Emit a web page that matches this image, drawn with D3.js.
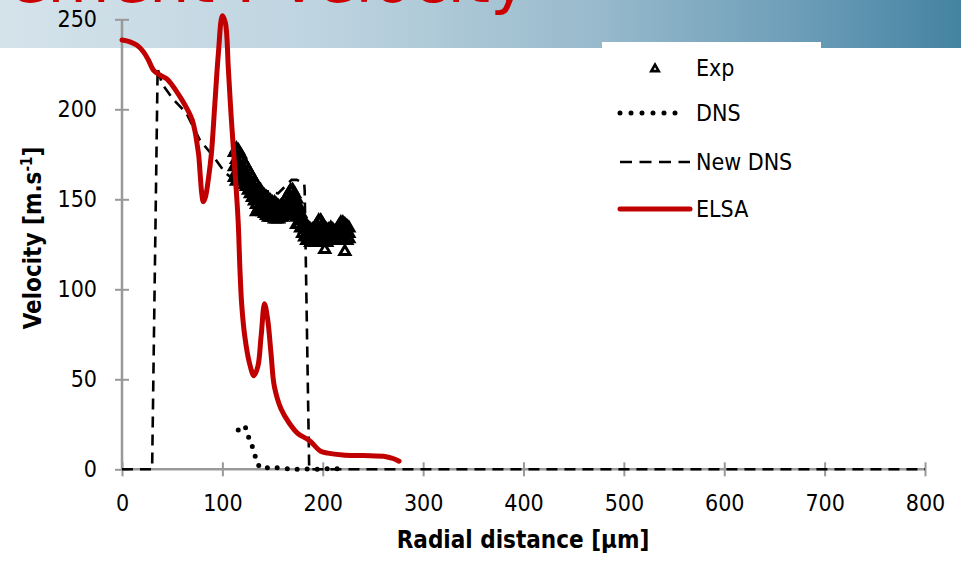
<!DOCTYPE html>
<html><head><meta charset="utf-8">
<script src="https://cdn.jsdelivr.net/npm/d3@7/dist/d3.min.js"></script>
<style>
body{margin:0;background:#fff;}
svg{display:block;}
text{font-family:"DejaVu Sans Condensed","Liberation Sans Narrow","DejaVu Sans",sans-serif;font-stretch:condensed;}
</style></head><body>
<svg id="c" width="961" height="562"></svg>
<script>
// ---------- data ----------
const xTicks = [0,100,200,300,400,500,600,700,800];
const yTicks = [0,50,100,150,200,250];
const seriesNames = ["Exp","DNS","New DNS","ELSA"];
const titleText = "Measurement : Velocity";
const xTitle = "Radial distance [μm]";

const elsa = [[0,238.5],[8,237.5],[14.6,235.7],[21.3,232],[26.3,227.4],[31.3,221.8],[37.8,219],[44.5,217],
 [49.5,213.8],[59.4,205.5],[66,199],[70,194],[73,187],[75,180],[76.5,174],[78,163],[79.5,153],[81,148.7],
 [83,151],[86,161],[89,175],[92.5,203],[96,231],[100,252],[103,248],[106,222],[109,194],[112.5,166],
 [115.7,138],[117.5,111],[119.2,92],[122.3,74],[127,59],[131.4,52],[135.3,57],[138.6,74],[142,92],
 [145.2,83],[148.5,64],[151.8,46],[158.5,33.5],[166.7,25.6],[175,20],[186.6,16],[198,10],[205,9],
 [220,8],[240,7.6],[263,7],[270,6],[276,4.5]];

const dns = [[115.8,21.8],[121.7,24.2],[125,19.4],[128.3,14.8],[131.6,9.8],[134,4.8],[138.9,0.5],
 [147.6,1.1],[155.8,0.8],[168,0.2],[177,0],[188,0.3],[199,0],[209,0.5],[219,0]];

const newDns = [[0,0],[30,0],[35.5,222.5],[40,214],[51,205.5],[64,198],[77.5,183],[90.7,174],[102.5,165],
 [117.3,158],[134,155.3],[147,154.2],[155.5,153.3],[164,158],[169,160.8],[174,160.8],[181.5,158.9],
 [182,155],[186.5,0],[800,0]];

const expX = [112,114,116,118,120,122,124,126,128,130,132,134,136,138,140,142,144,146,148,150,152,154,156,158,
 160,162,164,166,168,170,172,174,176,178,180,182,184,186,188,190,192,194,196,198,200,202,204,206,208,210,
 212,214,216,218,220,222,224,226];
const expV = [[176,168,162],[178,172,165,160],[177,170,163],[175,168,161],[172,166,160],[170,164,158],
 [168,162,157],[166,160,155],[164,158,153],[162,156,151],[160,154,149],[158,152,147,143],[156,150,145],
 [155,149,144],[153,148,143],[152,147,142],[151,146,141],[150,145,140],[149,144,140],[148,143,140],
 [148,143,139],[147,142,139],[146,142,139],[146,142,140],[147,143,140],[149,144,141],[151,146,142],
 [153,148,143],[155,150,145],[155,151,146],[153,148,143],[150,145,140,136],[146,141,136],[142,138,134],
 [139,135,131],[137,133,129],[135,131,127],[134,130,127],[133,129,126],[133,129,126],[134,130,127],
 [136,131,128],[138,133,129],[138,133,129],[136,131,127],[134,130,126,122],[133,129,126],[133,130,127],
 [134,130,127],[133,130,127],[132,129,127],[133,130,127],[135,131,128],[137,133,129],[137,133,129],
 [136,132,128,121],[135,131,127],[134,131,128]];

// ---------- setup ----------
const svg = d3.select("#c");
const x = d3.scaleLinear().domain([0,800]).range([122,925]);
const y = d3.scaleLinear().domain([0,250]).range([469.3,19.3]);

const defs = svg.append("defs");
const grad = defs.append("linearGradient").attr("id","bann").attr("x1","0").attr("x2","1").attr("y1","0").attr("y2","0");
[[0,"#d5e3eb"],[0.35,"#bcd3df"],[0.62,"#98bacc"],[0.82,"#6f9fb9"],[1,"#4483a2"]].forEach(s=>
  grad.append("stop").attr("offset",s[0]).attr("stop-color",s[1]));
defs.append("filter").attr("id","soft").append("feGaussianBlur").attr("stdDeviation",0.7);

svg.append("rect").attr("x",0).attr("y",0).attr("width",961).attr("height",562).attr("fill","#fff");
svg.append("rect").attr("x",0).attr("y",0).attr("width",961).attr("height",48).attr("fill","url(#bann)");
svg.append("text").attr("x",528).attr("y",2).attr("text-anchor","end")
  .style("font-family","'DejaVu Sans',sans-serif").style("font-stretch","normal")
  .attr("font-size",64).attr("fill","#cc0000").text(titleText);
// legend white box
svg.append("rect").attr("x",602).attr("y",42).attr("width",219).attr("height",200).attr("fill","#fff");

// ---------- axes ----------
const axisCol = "#999";
const gy = svg.append("g").attr("transform",`translate(${x(0)},0)`);
gy.call(d3.axisLeft(y).tickValues(d3.range(0,251,10)).tickSize(5).tickFormat(""));
gy.call(d3.axisLeft(y).tickValues(yTicks).tickSize(7).tickPadding(18));
gy.selectAll(".tick line").attr("stroke",axisCol).attr("stroke-width",2);
gy.selectAll(".tick").filter(d=>yTicks.includes(d)).select("line").attr("x1",7).attr("x2",-7);
gy.selectAll(".domain").remove();
gy.append("line").attr("x1",0).attr("x2",0).attr("y1",y(250)).attr("y2",y(0)).attr("stroke",axisCol).attr("stroke-width",2.5);
gy.selectAll(".tick text").attr("font-size",23).attr("fill","#000");

const gx = svg.append("g").attr("transform",`translate(0,${y(0)})`);
gx.call(d3.axisBottom(x).tickValues(d3.range(0,801,20)).tickSize(6).tickFormat(""));
gx.call(d3.axisBottom(x).tickValues(xTicks).tickSize(7).tickPadding(18));
gx.selectAll(".domain").remove();
gx.selectAll(".tick line").attr("stroke",axisCol).attr("stroke-width",2);
gx.selectAll(".tick").filter(d=>xTicks.includes(d)).select("line").attr("y1",-7).attr("y2",7);
gx.append("line").attr("x1",x(0)).attr("x2",x(800)).attr("y1",0).attr("y2",0).attr("stroke",axisCol).attr("stroke-width",2.5);
gx.selectAll(".tick text").attr("font-size",23).attr("fill","#000");
svg.selectAll(".tick text").attr("font-family",null);

// axis titles
svg.append("text").attr("x",523).attr("y",548).attr("text-anchor","middle")
  .attr("font-size",24).attr("font-weight","bold").attr("fill","#000").text(xTitle);
const yt = svg.append("text").attr("transform","translate(41,238) rotate(-90)").attr("text-anchor","middle")
  .attr("font-size",24).attr("font-weight","bold").attr("fill","#000");
yt.append("tspan").text("Velocity [m.s");
yt.append("tspan").attr("font-size",15).attr("dy",-9).text("-1");
yt.append("tspan").attr("dy",9).text("]");

// ---------- series ----------
const lineLin = d3.line().x(d=>x(d[0])).y(d=>y(d[1]));
const lineCurve = d3.line().x(d=>x(d[0])).y(d=>y(d[1])).curve(d3.curveCatmullRom.alpha(0.5));

// Exp
const tri = d3.symbol().type(d3.symbolTriangle).size(44);
const expPts = [];
expX.forEach((xv,i)=>expV[i].forEach(v=>expPts.push([xv,v])));
svg.append("g").attr("filter","url(#soft)").selectAll("path").data(expPts).join("path")
  .attr("d",tri).attr("transform",d=>`translate(${x(d[0])},${y(d[1])})`)
  .attr("fill","none").attr("stroke","#000").attr("stroke-width",3);

// New DNS
svg.append("path").datum(newDns).attr("d",lineLin).attr("fill","none")
  .attr("stroke","#000").attr("stroke-width",2.6).attr("stroke-dasharray","11,7");
// DNS
svg.append("path").datum(dns).attr("d",lineCurve).attr("fill","none")
  .attr("stroke","#000").attr("stroke-width",5).attr("stroke-linecap","round").attr("stroke-dasharray","0,10");
// ELSA
svg.append("path").datum(elsa).attr("d",lineCurve).attr("fill","none")
  .attr("stroke","#c00000").attr("stroke-width",5).attr("stroke-linejoin","round").attr("stroke-linecap","round");

// ---------- legend ----------
const lg = svg.append("g");
const ly = [68,113,162,209];
lg.append("path").attr("d",d3.symbol().type(d3.symbolTriangle).size(24)).attr("transform",`translate(655,${ly[0]+1})`)
  .attr("fill","none").attr("stroke","#000").attr("stroke-width",2.6);
lg.append("line").attr("x1",620).attr("x2",686).attr("y1",ly[1]).attr("y2",ly[1]).attr("stroke","#000")
  .attr("stroke-width",5).attr("stroke-linecap","round").attr("stroke-dasharray","0,11");
lg.append("line").attr("x1",620).attr("x2",690).attr("y1",ly[2]).attr("y2",ly[2]).attr("stroke","#000")
  .attr("stroke-width",2.6).attr("stroke-dasharray","12,7.5");
lg.append("line").attr("x1",620).attr("x2",690).attr("y1",ly[3]).attr("y2",ly[3]).attr("stroke","#c00000")
  .attr("stroke-width",5).attr("stroke-linecap","round");
lg.selectAll("text.lab").data(seriesNames).join("text").attr("class","lab")
  .attr("x",696).attr("y",(d,i)=>ly[i]+8).attr("font-size",23).attr("fill","#000").text(d=>d);
</script>
</body></html>
